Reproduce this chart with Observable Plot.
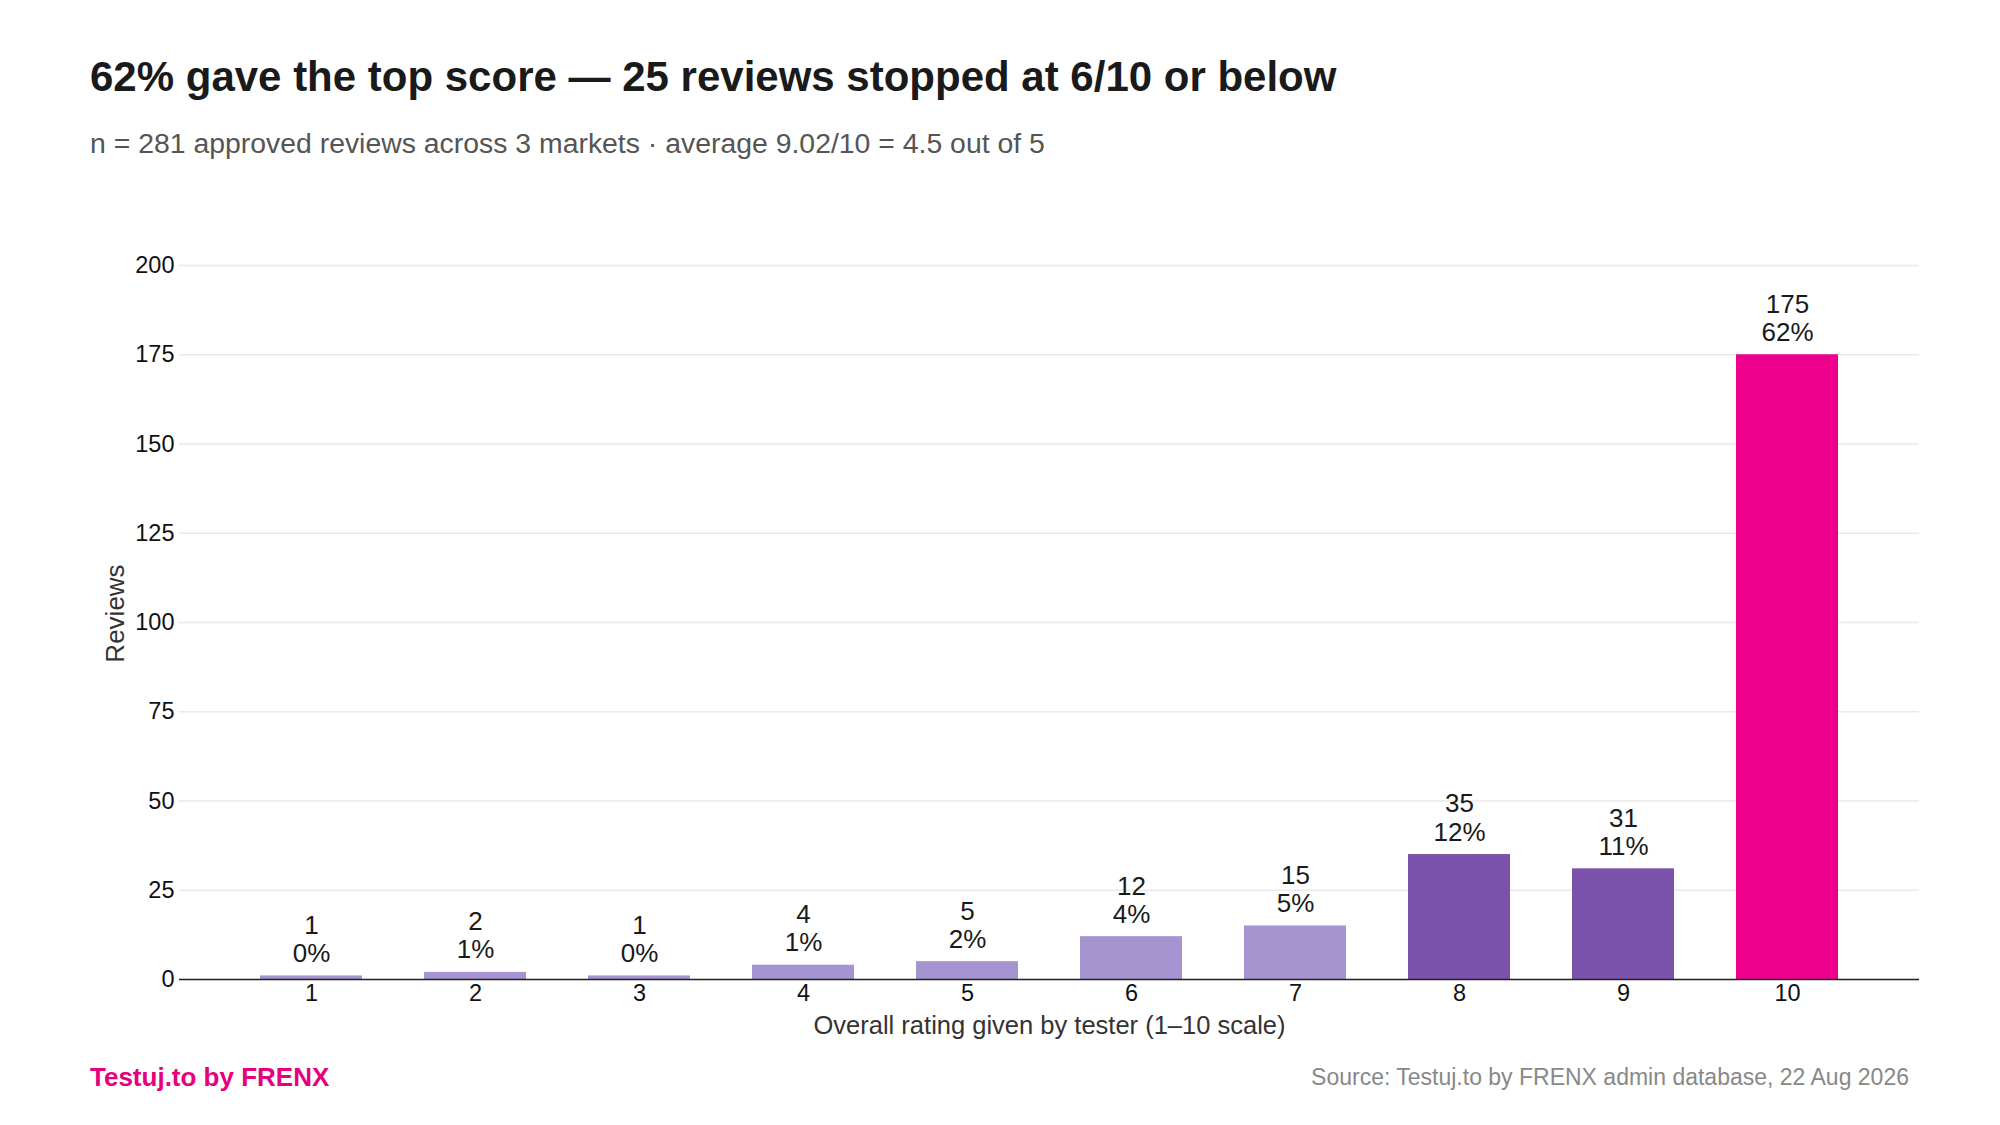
<!DOCTYPE html>
<html><head><meta charset="utf-8">
<script src="https://cdn.jsdelivr.net/npm/d3@7"></script>
<script src="https://cdn.jsdelivr.net/npm/@observablehq/plot@0.6"></script>
<style>
body{margin:0;background:#fff;font-family:"Liberation Sans",Arial,Helvetica,sans-serif;}
#wrap{position:relative;width:2000px;height:1125px;overflow:hidden;background:#fff;}
.t{position:absolute;line-height:1;white-space:nowrap;}
#title{left:90px;top:56px;font-size:42px;font-weight:bold;color:#1a1a1a;}
#subtitle{left:90px;top:129px;font-size:28.4px;color:#555;}
#brand{left:90px;top:1064px;font-size:26px;font-weight:bold;color:#e6007e;}
#source{right:91px;top:1066px;font-size:23px;color:#888;}
#chart{position:absolute;left:0;top:180px;}
</style></head>
<body><div id="wrap">
<div class="t" id="title">62% gave the top score — 25 reviews stopped at 6/10 or below</div>
<div class="t" id="subtitle">n = 281 approved reviews across 3 markets · average 9.02/10 = 4.5 out of 5</div>
<div id="chart"></div>
<div class="t" id="brand">Testuj.to by FRENX</div>
<div class="t" id="source">Source: Testuj.to by FRENX admin database, 22 Aug 2026</div>
</div>
<script>
const ratings = [1, 2, 3, 4, 5, 6, 7, 8, 9, 10];
const reviews = [1, 2, 1, 4, 5, 12, 15, 35, 31, 175];
const pctLabels = ["0%", "1%", "0%", "1%", "2%", "4%", "5%", "12%", "11%", "62%"];
const yTicks = [0, 25, 50, 75, 100, 125, 150, 175, 200];
const xTitle = "Overall rating given by tester (1–10 scale)";
const yTitle = "Reviews";

const data = ratings.map((r, i) => ({rating: r, count: reviews[i], pct: pctLabels[i]}));
const tierColor = r => r === 10 ? "#ec008c" : r >= 8 ? "#7b52ab" : "#a694d0";

const chart = Plot.plot({
  width: 2000,
  height: 880,
  marginTop: 85,
  marginBottom: 81,
  marginLeft: 179,
  marginRight: 81,
  style: {fontFamily: '"Liberation Sans", Arial, sans-serif', background: "#fff", color: "#222"},
  x: {type: "band", domain: ratings, paddingInner: 0.38, paddingOuter: 0.482, label: null},
  y: {domain: [0, 200], label: null},
  color: {type: "identity"},
  marks: [
    Plot.gridY(yTicks, {stroke: "#e9e9e9", strokeOpacity: 1, strokeWidth: 1.3}),
    Plot.axisY(yTicks, {tickSize: 0, tickPadding: 5, fontSize: 23.5, fill: "#111", label: null}),
    Plot.axisX({tickSize: 0, tickPadding: 5, fontSize: 23.5, fill: "#111", label: null}),
    Plot.text([yTitle], {frameAnchor: "left", rotate: -90, dx: -64, dy: -9, fontSize: 26,
      fill: "#333", textAnchor: "middle", lineAnchor: "middle"}),
    Plot.text([xTitle], {frameAnchor: "bottom", dy: 46, fontSize: 25.5,
      fill: "#333", textAnchor: "middle", lineAnchor: "middle"}),
    Plot.barY(data, {x: "rating", y: "count", fill: d => tierColor(d.rating)}),
    Plot.ruleY([0], {stroke: "#222", strokeWidth: 1.5}),
    Plot.text(data, {x: "rating", y: "count", text: d => `${d.count}\n${d.pct}`,
      lineAnchor: "bottom", dy: -14, fontSize: 26, lineHeight: 1.08, fill: "#1a1a1a"})
  ]
});
document.getElementById("chart").appendChild(chart);
</script>
</body></html>
